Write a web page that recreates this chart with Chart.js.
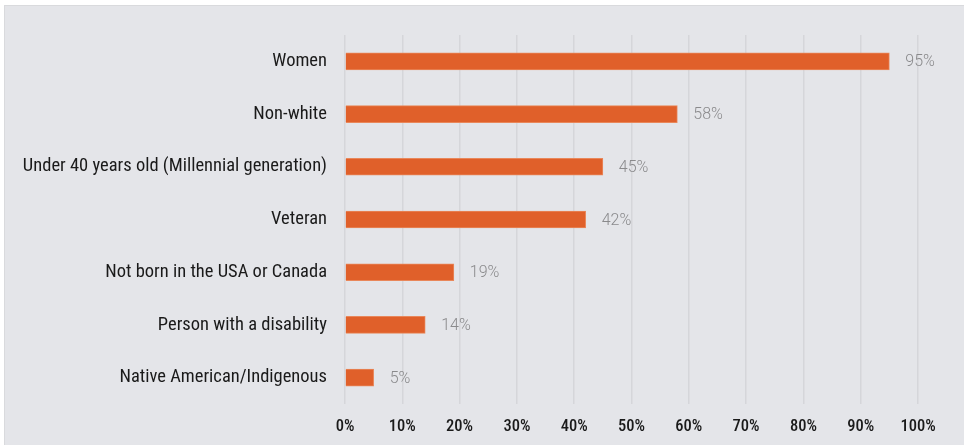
<!DOCTYPE html>
<html>
<head>
<meta charset="utf-8">
<script src="https://cdn.jsdelivr.net/npm/chart.js@4/dist/chart.umd.min.js"></script>
<style>
  html, body { margin: 0; padding: 0; background: #ffffff; }
  #wrap { position: relative; width: 964px; height: 445px; }
  canvas { display: block; }
</style>
</head>
<body>
<div id="wrap"><canvas id="chart" width="964" height="445"></canvas></div>
<script>
// Survey respondents by identity group (share of respondents, %)
const categories = [
  'Women',
  'Non-white',
  'Under 40 years old (Millennial generation)',
  'Veteran',
  'Not born in the USA or Canada',
  'Person with a disability',
  'Native American/Indigenous'
];
const shares = [95, 58, 45, 42, 19, 14, 5];
const axisTicks = [0, 10, 20, 30, 40, 50, 60, 70, 80, 90, 100];

// pick the first installed narrow face for the axis text
function pickFamily(list) {
  const c = document.createElement('canvas').getContext('2d');
  const probe = 'Under 40 years old (Millennial generation) 0123456789%';
  for (const fam of list) {
    let same = true;
    for (const base of ['monospace', 'serif']) {
      c.font = '20px ' + base;
      const w0 = c.measureText(probe).width;
      c.font = '20px "' + fam + '", ' + base;
      if (Math.abs(c.measureText(probe).width - w0) > 0.5) { same = false; }
    }
    if (!same) return fam;
  }
  return 'Roboto';
}
const narrow = pickFamily(['Roboto Condensed', 'Liberation Sans Narrow', 'DejaVu Sans Condensed', 'Roboto']);

const panel = {
  id: 'panel',
  beforeDraw(chart) {
    const ctx = chart.ctx;
    ctx.save();
    ctx.fillStyle = '#ffffff';
    ctx.fillRect(0, 0, chart.width, chart.height);
    ctx.fillStyle = '#e4e5e9';
    ctx.fillRect(4, 5, chart.width - 4, chart.height - 5);
    ctx.fillStyle = '#d9dadd';
    ctx.fillRect(4, 5, chart.width - 4, 1);
    ctx.fillRect(4, 5, 1, chart.height - 5);
    ctx.restore();
  }
};

const valueLabels = {
  id: 'valueLabels',
  afterDatasetsDraw(chart) {
    const ctx = chart.ctx;
    const meta = chart.getDatasetMeta(0);
    ctx.save();
    ctx.font = '300 16px Roboto';
    ctx.fillStyle = '#8a8a8c';
    ctx.textAlign = 'left';
    ctx.textBaseline = 'middle';
    meta.data.forEach((bar, i) => {
      ctx.fillText(shares[i] + '%', bar.x + 16, bar.y + 1);
    });
    ctx.restore();
  }
};

new Chart(document.getElementById('chart'), {
  type: 'bar',
  data: {
    labels: categories,
    datasets: [{
      data: shares,
      backgroundColor: '#e0602a',
      borderColor: '#e9875a',
      borderWidth: 1,
      borderSkipped: 'left',
      barThickness: 17
    }]
  },
  options: {
    indexAxis: 'y',
    responsive: false,
    animation: false,
    layout: { padding: { left: 0, right: 46, top: 35, bottom: 9 } },
    plugins: { legend: { display: false }, tooltip: { enabled: false } },
    scales: {
      x: {
        min: 0,
        max: 100,
        afterBuildTicks(scale) { scale.ticks = axisTicks.map(v => ({ value: v })); },
        afterFit(scale) { scale.height = 32; },
        grid: { color: '#d5d6da', lineWidth: 1.5, drawTicks: false },
        border: { display: false },
        ticks: {
          padding: 13,
          color: '#1a1a1a',
          font: { family: narrow, size: 16.5, weight: '500' },
          callback: v => v + '%'
        }
      },
      y: {
        afterFit(scale) { scale.width = 345; },
        grid: { display: false, drawTicks: false },
        border: { display: false },
        ticks: {
          padding: 18,
          color: '#1a1a1a',
          font: { family: narrow, size: 18.5 }
        }
      }
    }
  },
  plugins: [panel, valueLabels]
});
</script>
</body>
</html>
